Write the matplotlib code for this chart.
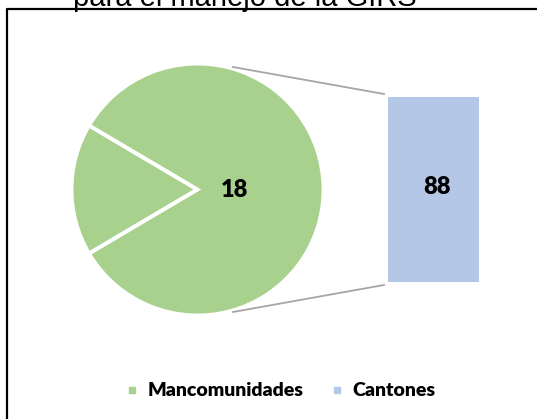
import numpy as np
import matplotlib
matplotlib.use("Agg")
import matplotlib.pyplot as plt
from matplotlib.lines import Line2D

# data
labels = ["Mancomunidades", "Cantones"]
pie_values = [18, 88]
bar_value = 88
pie_label = "18"
title_tail = "para el manejo de la GIRS"

green = "#A9D18E"
blue = "#B4C7E7"
W, H = 537, 419

fig = plt.figure(figsize=(W / 100, H / 100), dpi=100)

def fx(px):
    return px / W

def fy(py):
    return 1 - py / H

# pie
cx, cy, r = 197.5, 189.5, 126
ax = fig.add_axes([fx(cx - r), fy(cy + r), 2 * r / W, 2 * r / H])
frac = pie_values[0] / sum(pie_values)
ax.pie(pie_values, colors=[green, green], startangle=180 - 180 * frac,
       counterclock=True, wedgeprops=dict(edgecolor="white", linewidth=2.8))
ax.set_xlim(-1.0, 1.0)
ax.set_ylim(-1.0, 1.0)
ax.set_aspect("equal")
ax.text(0.29, 0.0, pie_label, ha="center", va="center", fontsize=17,
        fontweight="heavy", family="Lato")

# bar
bx0, bx1, by0, by1 = 388.3, 479.3, 96.7, 282.3
bax = fig.add_axes([fx(bx0), fy(by1), (bx1 - bx0) / W, (by1 - by0) / H])
bax.bar([0], [bar_value], width=1, color=blue)
bax.set_xlim(-0.5, 0.5)
bax.set_ylim(0, bar_value)
bax.axis("off")
bax.text(0.03, bar_value * 0.515, str(bar_value), ha="center", va="center",
         fontsize=17, fontweight="heavy", family="Lato")

# connector lines
for (x0, y0), (x1, y1) in [((233, 67), (384, 94)), ((233, 312), (384, 285))]:
    fig.add_artist(Line2D([fx(x0), fx(x1)], [fy(y0), fy(y1)], color="#A6A6A6",
                          lw=1.3, transform=fig.transFigure))

# outer frame (partially visible)
fig.add_artist(Line2D([fx(7.5), fx(7.5), fx(540)], [fy(425), fy(9.5), fy(9.5)],
                      color="black", lw=1.6, transform=fig.transFigure))

# title, cut at top
fig.text(fx(73), fy(6), title_tail, ha="left", va="baseline", fontsize=21,
         family="Liberation Sans")

# legend
handles = [Line2D([], [], marker="s", linestyle="none", markersize=5,
                  markerfacecolor=c, markeredgecolor=c) for c in (green, blue)]
fig.legend(handles, labels, loc="center", bbox_to_anchor=(fx(281), fy(391)),
           ncol=2, frameon=False, handlelength=0.6, handletextpad=0.5,
           columnspacing=1.4, prop=dict(family="Lato", weight="heavy", size=14))

fig.savefig("out.png", dpi=100)
